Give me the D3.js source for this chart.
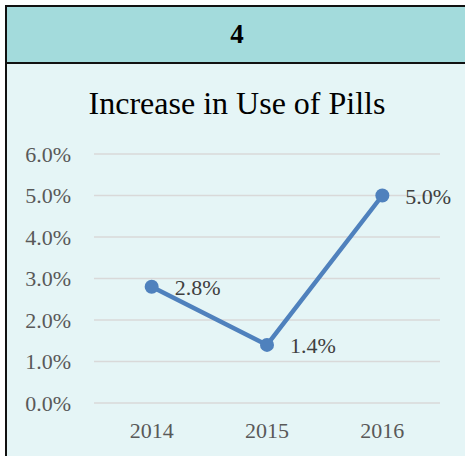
<!DOCTYPE html>
<html lang="en">

<head>
	<meta charset="UTF-8">
	<title>Increase in Use of Pills</title>
	<script src="https://d3js.org/d3.v7.min.js"></script>
	<style>
		body {
			margin: 0;
			background: #fff;
		}

		text {
			font-family: "Liberation Serif", "Times New Roman", serif;
		}

		.grid line {
			stroke: #d9d9d9;
			stroke-width: 1.5px;
		}
	</style>
</head>

<body>
	<script>
		const width = 465;
		const height = 456;

		const years = ['2014', '2015', '2016'];
		const usage = [2.8, 1.4, 5.0];
		const yTicks = [0, 1, 2, 3, 4, 5, 6];

		const svg = d3.select("body").append("svg")
			.attr("width", width)
			.attr("height", height);

		// header cell
		svg.append("rect")
			.attr("x", 6).attr("y", 6)
			.attr("width", width + 10).attr("height", 57)
			.attr("fill", "#a3dbdc")
			.attr("stroke", "#111")
			.attr("stroke-width", 2);

		svg.append("rect")
			.attr("x", 6).attr("y", 63)
			.attr("width", width + 10).attr("height", height)
			.attr("fill", "#e5f5f6")
			.attr("stroke", "#111")
			.attr("stroke-width", 2);

		svg.append("text")
			.attr("x", 237).attr("y", 43)
			.attr("text-anchor", "middle")
			.attr("font-size", 27)
			.attr("font-weight", "bold")
			.attr("fill", "#000")
			.text("4");

		svg.append("text")
			.attr("x", 237).attr("y", 114)
			.attr("text-anchor", "middle")
			.attr("font-size", 32)
			.attr("fill", "#000")
			.text("Increase in Use of Pills");

		const x = d3.scaleBand()
			.domain(years)
			.range([94, 440]);

		const y = d3.scaleLinear()
			.domain([0, 6])
			.range([403, 154]);

		const grid = svg.append("g").attr("class", "grid");
		grid.selectAll("line")
			.data(yTicks)
			.enter().append("line")
			.attr("x1", 94).attr("x2", 440)
			.attr("y1", d => y(d)).attr("y2", d => y(d));

		const yAxis = d3.axisLeft(y)
			.tickValues(yTicks)
			.tickFormat(d => d.toFixed(1) + "%")
			.tickSize(0)
			.tickPadding(0);

		svg.append("g")
			.attr("transform", "translate(71,0)")
			.call(yAxis)
			.call(g => g.select(".domain").remove())
			.selectAll("text")
			.attr("font-size", 22)
			.attr("font-family", "Liberation Serif, serif")
			.attr("fill", "#595959");

		const xAxis = d3.axisBottom(x)
			.tickSize(0)
			.tickPadding(0);

		svg.append("g")
			.attr("transform", "translate(0,422)")
			.call(xAxis)
			.call(g => g.select(".domain").remove())
			.selectAll("text")
			.attr("font-size", 22)
			.attr("font-family", "Liberation Serif, serif")
			.attr("fill", "#595959");

		const points = years.map((d, i) => ({ year: d, value: usage[i] }));
		const cx = d => x(d.year) + x.bandwidth() / 2;

		svg.append("path")
			.datum(points)
			.attr("fill", "none")
			.attr("stroke", "#4f81bd")
			.attr("stroke-width", 4.5)
			.attr("stroke-linejoin", "round")
			.attr("d", d3.line().x(cx).y(d => y(d.value)));

		svg.append("g")
			.selectAll("circle")
			.data(points)
			.enter().append("circle")
			.attr("cx", cx)
			.attr("cy", d => y(d.value))
			.attr("r", 7)
			.attr("fill", "#4f81bd");

		svg.append("g")
			.selectAll("text")
			.data(points)
			.enter().append("text")
			.attr("x", d => cx(d) + 23)
			.attr("y", d => y(d.value) + 8)
			.attr("font-size", 22)
			.attr("fill", "#404040")
			.text(d => d.value.toFixed(1) + "%");
	</script>
</body>

</html>
